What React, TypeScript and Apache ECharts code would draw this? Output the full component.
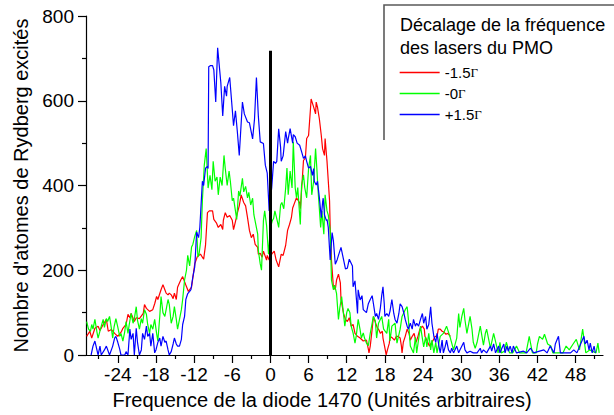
import React, { useEffect, useRef } from "react";
import * as echarts from "echarts";

// ---------- data ----------
const redX = [-28.9,-28.4,-28.1,-27.6,-27.1,-26.8,-26.3,-25.8,-25.5,-25.0,-24.5,-24.0,-23.4,-23.2,-22.7,-22.4,-22.1,-21.9,-21.4,-21.1,-20.6,-20.0,-19.8,-19.5,-19.0,-18.5,-18.2,-17.9,-17.7,-17.2,-16.9,-16.6,-16.4,-16.1,-15.9,-15.6,-15.3,-15.1,-14.8,-14.6,-14.1,-13.8,-13.3,-12.9,-12.4,-11.9,-11.5,-11.0,-10.5,-10.2,-9.9,-9.6,-9.1,-8.9,-8.5,-8.2,-7.8,-7.5,-7.4,-7.1,-6.8,-6.4,-6.0,-5.8,-5.5,-5.2,-4.9,-4.6,-4.2,-3.9,-3.6,-3.3,-3.0,-2.7,-2.4,-2.0,-1.9,-1.6,-1.3,-1.1,-0.6,-0.5,-0.2,0.2,0.6,0.9,1.3,1.7,2.0,2.4,2.7,3.0,3.3,3.5,3.8,4.1,4.6,4.7,4.9,5.2,5.5,5.7,6.0,6.3,6.4,6.8,7.1,7.2,7.4,7.7,8.0,8.2,8.5,8.6,8.9,9.3,9.4,9.6,9.9,10.2,10.4,10.7,11.0,11.1,11.5,11.8,12.1,12.4,12.7,13.0,13.3,13.7,14.1,14.6,15.1,15.4,15.5,15.7,16.0,16.2,16.5,16.8,17.1,17.3,17.6,17.7,18.1,18.2,18.4,18.7,18.8,19.2,19.5,19.8,20.1,20.4,20.6,20.7,20.9,21.2,21.5,21.8,22.0,22.3,22.6,22.9,23.2,23.5,23.9,24.2,24.3,24.6,25.0,25.3,25.6,25.9,26.2,26.4,26.7,27.0,27.3,27.6,27.9,28.3];
const redY = [44,56,40,63,68,58,72,84,56,60,51,44,56,63,72,96,88,98,79,88,86,98,119,110,103,107,121,138,131,154,166,154,146,142,146,142,133,146,131,160,177,185,165,150,160,215,232,238,226,260,336,340,340,320,312,301,308,296,318,336,325,329,318,296,315,335,352,378,360,352,324,294,277,285,261,254,238,240,231,245,224,235,224,238,245,224,208,238,235,259,294,308,324,347,359,371,359,345,389,459,465,511,518,581,604,585,569,597,585,557,518,487,471,511,457,364,301,224,161,154,177,191,170,131,98,84,79,88,68,72,51,44,40,33,35,14,5,21,61,91,77,65,58,51,56,40,9,0,12,28,44,40,35,44,44,40,21,5,30,44,61,51,35,44,51,30,44,61,68,61,44,35,21,28,35,44,44,61,61,56,54,49,51,44];

const greenX = [-28.9,-28.6,-28.3,-28.1,-27.9,-27.6,-27.3,-27.1,-26.6,-26.3,-26.1,-25.8,-25.6,-25.3,-25.1,-24.8,-24.6,-24.3,-24.0,-23.7,-23.5,-23.2,-22.9,-22.7,-22.4,-22.2,-21.9,-21.6,-21.4,-21.1,-20.9,-20.6,-20.3,-20.1,-19.8,-19.5,-19.3,-19.0,-18.8,-18.5,-18.2,-17.9,-17.7,-17.4,-17.2,-16.9,-16.6,-16.4,-16.1,-15.9,-15.6,-15.3,-15.1,-14.8,-14.6,-14.3,-14.0,-13.8,-13.5,-13.2,-13.0,-12.7,-12.4,-12.2,-11.9,-11.6,-11.4,-11.2,-10.9,-10.7,-10.4,-10.1,-9.8,-9.5,-9.2,-9.0,-8.7,-8.4,-8.2,-7.9,-7.6,-7.3,-7.1,-6.8,-6.5,-6.3,-6.0,-5.8,-5.5,-5.3,-5.0,-4.8,-4.4,-4.2,-3.9,-3.6,-3.4,-3.1,-2.8,-2.6,-2.3,-2.0,-1.9,-1.6,-1.4,-1.1,-0.9,-0.6,-0.3,0.0,0.3,0.5,0.7,1.0,1.3,1.6,1.8,2.1,2.4,2.6,2.8,3.1,3.4,3.6,3.9,4.1,4.3,4.7,4.9,5.2,5.4,5.7,6.0,6.3,6.5,6.8,7.1,7.3,7.5,7.9,8.1,8.4,8.6,8.9,9.1,9.4,9.6,9.9,10.1,10.4,10.7,10.9,11.2,11.4,11.7,12.0,12.2,12.5,12.7,13.0,13.3,13.5,13.8,14.1,14.3,14.6,14.8,15.1,15.4,15.7,16.2,16.5,16.7,17.0,17.5,17.8,18.3,18.6,18.8,19.1,19.6,19.9,20.4,20.7,21.2,21.5,21.7,22.0,22.5,22.8,23.0,23.6,24.1,24.4,24.6,24.9,25.2,25.4,25.7,26.0,26.2,26.7,27.2,27.7,28.3,28.8,29.3,29.6,29.8,30.1,30.4,30.6,30.9,31.2,31.4,31.7,31.9,32.2,32.5,33.0,33.5,33.8,34.0,34.6,35.1,35.6,35.8,36.1,36.3,36.8,37.1,37.6,38.1,38.7,39.2,40.2,40.7,41.2,41.8,42.0,42.3,42.8,43.1,43.6,44.1,44.4,44.9,46.0,46.5,47.0,47.6,48.1,48.6,49.1,49.6,50.2,51.2,51.5,51.7];
const greenY = [79,61,56,72,61,84,56,40,68,84,65,86,79,91,72,40,65,86,66,44,51,33,56,79,51,72,98,75,86,114,82,61,86,75,107,96,72,51,72,61,84,51,33,91,138,100,91,107,131,119,75,91,114,84,61,84,107,131,177,200,235,210,255,261,280,294,231,240,277,364,448,487,394,424,390,457,410,420,378,420,400,471,440,400,434,410,364,370,340,320,387,375,417,385,398,371,384,354,370,331,308,285,247,215,200,317,340,305,238,300,317,322,340,322,301,354,360,345,394,441,378,434,394,503,394,371,395,308,401,425,395,371,440,471,378,410,487,440,387,301,340,285,378,340,330,294,177,154,165,145,84,110,138,110,68,100,110,100,68,52,28,45,84,60,40,52,40,28,22,51,91,80,40,75,91,61,51,84,33,68,75,28,61,91,107,114,84,21,5,42,5,68,19,42,19,51,12,35,5,30,5,44,51,68,40,12,40,98,65,91,110,82,51,75,91,61,30,16,30,68,23,51,61,16,51,19,5,30,5,9,30,5,5,21,5,5,44,5,5,26,44,37,49,26,21,5,5,5,21,12,26,37,12,61,5,12,5,28,5];

const blueX = [-28.2,-27.9,-27.6,-27.4,-27.1,-26.8,-26.6,-26.1,-25.8,-25.3,-24.8,-24.5,-24.3,-24.0,-23.7,-23.5,-22.9,-22.7,-22.4,-22.1,-21.9,-21.6,-21.4,-21.1,-20.9,-20.6,-20.3,-20.1,-19.8,-19.5,-19.3,-19.0,-18.8,-18.5,-18.2,-18.0,-17.7,-17.4,-17.2,-16.9,-16.6,-16.4,-16.1,-15.9,-15.6,-15.3,-15.1,-14.8,-14.6,-14.3,-14.0,-13.8,-13.5,-13.3,-13.0,-12.7,-12.5,-12.2,-11.9,-11.6,-11.3,-11.1,-10.7,-10.5,-10.2,-9.9,-9.8,-9.7,-9.4,-9.1,-8.9,-8.6,-8.3,-7.8,-7.5,-7.2,-6.9,-6.8,-6.4,-6.0,-5.8,-5.5,-5.2,-4.9,-4.4,-4.1,-3.6,-3.3,-2.8,-2.5,-2.2,-1.9,-1.6,-1.1,-0.8,-0.5,-0.3,-0.2,0.2,0.5,0.8,1.0,1.3,1.6,1.7,2.0,2.4,2.7,2.8,3.1,3.5,3.6,3.9,4.2,4.6,4.9,5.2,5.5,5.7,6.0,6.3,6.6,6.8,6.9,7.2,7.4,7.7,8.0,8.2,8.3,8.5,8.8,8.9,9.1,9.4,9.7,9.9,10.2,10.5,10.7,11.1,11.5,11.8,12.1,12.4,12.9,13.0,13.3,13.7,13.8,14.1,14.4,14.6,15.1,15.4,15.7,16.0,16.2,16.5,16.7,17.0,17.3,17.5,17.7,17.9,18.0,18.3,18.6,18.8,19.1,19.4,19.6,19.9,20.2,20.4,20.7,21.0,21.2,21.5,21.7,22.0,22.3,22.5,22.8,23.0,23.3,23.6,23.9,24.1,24.4,24.6,24.9,25.2,25.4,25.7,26.0,26.2,26.5,26.7,27.0,27.2,27.5,27.7,28.0,28.3,28.5,28.8,29.3,29.6,29.8,30.4,30.6,30.9,31.4,31.9,32.5,33.0,33.2,33.5,34.0,34.6,34.8,35.1,35.4,35.6,35.9,36.1,36.4,36.7,36.9,37.2,37.4,37.7,38.0,38.2,38.7,39.8,40.3,40.9,41.4,43.0,43.5,44.0,44.6,44.8,45.1,45.3,45.6,47.2,47.7,48.2,49.3,49.5,49.8,50.1,50.3,50.6,50.9,51.1];
const blueY = [0,21,33,20,0,21,0,12,21,0,21,40,44,30,14,0,0,8,0,61,37,51,0,63,30,0,12,51,37,68,44,51,21,51,5,12,30,40,21,44,30,33,12,0,8,26,40,26,21,21,37,72,91,131,145,150,154,184,208,290,277,301,410,400,441,445,440,680,683,683,673,597,725,643,564,634,611,634,655,580,541,576,527,471,597,569,550,548,510,557,655,564,503,499,448,429,371,340,394,457,452,457,534,490,457,470,527,500,510,534,500,520,515,500,495,480,464,470,457,441,445,424,440,410,401,410,371,324,360,370,331,317,320,301,224,289,270,214,225,235,254,225,203,205,226,210,161,175,98,154,130,140,107,100,121,131,140,121,91,98,84,112,140,161,121,91,98,91,103,131,98,84,75,98,121,114,98,84,68,61,75,61,84,68,75,68,84,98,75,91,61,72,114,75,44,30,51,21,5,35,5,21,35,12,5,16,5,21,5,12,30,12,5,9,5,5,16,5,12,5,21,9,26,5,12,21,5,16,26,5,21,9,21,5,21,5,9,5,16,5,12,5,21,5,26,37,44,5,5,12,5,44,26,35,12,28,5,21,5];

const xMajorTicks = [-24, -18, -12, -6, 0, 6, 12, 18, 24, 30, 36, 42, 48];
const xMinorTicks = [-27, -21, -15, -9, -3, 3, 9, 15, 21, 27, 33, 39, 45, 51];
const seriesNames = ["-1.5Γ", "-0Γ", "+1.5Γ"];
const seriesColors = ["#ff0000", "#00ff00", "#0000ff"];
const legendTitle = ["Décalage de la fréquence", "des lasers du PMO"];
const xTitle = "Frequence de la diode 1470 (Unités arbitraires)";
const yTitle = "Nombre d'atomes de Rydberg excités";
const zeroLineTop = 718;

const FONT = "'Liberation Sans', Arial, Helvetica, sans-serif";

function pairs(xs: number[], ys: number[]) {
  return xs.map((x, i) => [x, ys[i]]);
}

export default function App() {
  const ref = useRef<HTMLDivElement>(null);
  useEffect(() => {
    if (!ref.current) return;
    const chart = echarts.init(ref.current, null, { renderer: "svg" });
    const datasets = [pairs(redX, redY), pairs(greenX, greenY), pairs(blueX, blueY)];
    const option: any = {
      animation: false,
      backgroundColor: "#fff",
      textStyle: { fontFamily: FONT, color: "#000" },
      grid: { left: 86, right: 11, top: 16, bottom: 56 },
      legend: {
        data: seriesNames.map((n, i) => ({
          name: n,
          itemStyle: { opacity: 0 },
          lineStyle: { color: seriesColors[i], width: 1.3, opacity: 1 },
        })),
        orient: "vertical",
        left: 399,
        top: 65,
        padding: 0,
        itemWidth: 40,
        itemHeight: 16,
        itemGap: 6,
        selectedMode: false,
        formatter: (name: string) => "{t|" + name.replace("Γ", "") + "}{g|Γ}",
        textStyle: {
          color: "#000",
          fontFamily: FONT,
          fontSize: 15,
          rich: {
            t: { fontFamily: FONT, fontSize: 15, color: "#000" },
            g: { fontFamily: "'Liberation Serif', 'DejaVu Serif', serif", fontSize: 13, color: "#000" },
          },
        },
      },
      graphic: [
        {
          type: "polyline",
          shape: { points: [[384, 140], [384, 5], [616, 5]] },
          style: { stroke: "#5a5a5a", lineWidth: 1.6, fill: null },
          z: 1,
        },
        {
          type: "text",
          x: 400,
          y: 25,
          style: { text: legendTitle[0], font: "18px " + FONT, fill: "#000", verticalAlign: "middle" },
        },
        {
          type: "text",
          x: 400,
          y: 48,
          style: { text: legendTitle[1], font: "18px " + FONT, fill: "#000", verticalAlign: "middle" },
        },
      ],
      xAxis: [
        {
          type: "value",
          min: -29,
          max: 52.3,
          position: "bottom",
          name: xTitle,
          nameLocation: "middle",
          nameGap: 35,
          nameTextStyle: { fontSize: 20, color: "#000", fontFamily: FONT, padding: [0, 45, 0, 0] },
          axisLine: { show: true, onZero: false, lineStyle: { color: "#000", width: 1.2 } },
          axisTick: { show: true, length: 8, customValues: xMajorTicks, lineStyle: { color: "#000", width: 1.2 } },
          axisLabel: { show: true, customValues: xMajorTicks, fontSize: 19, color: "#000", fontFamily: FONT, margin: 10 },
          splitLine: { show: false },
        },
        {
          type: "value",
          min: -29,
          max: 52.3,
          position: "bottom",
          axisLine: { show: false, onZero: false },
          axisTick: { show: true, length: 4, customValues: xMinorTicks, lineStyle: { color: "#000", width: 1.2 } },
          axisLabel: { show: false },
          splitLine: { show: false },
        },
      ],
      yAxis: {
        type: "value",
        min: 0,
        max: 800,
        interval: 200,
        name: yTitle,
        nameLocation: "middle",
        nameGap: 54,
        nameTextStyle: { fontSize: 20, color: "#000", fontFamily: FONT },
        axisLine: { show: true, onZero: false, lineStyle: { color: "#000", width: 1.2 } },
        axisTick: { show: true, length: 8, lineStyle: { color: "#000", width: 1.2 } },
        minorTick: { show: true, splitNumber: 2, length: 4, lineStyle: { color: "#000", width: 1.2 } },
        axisLabel: { fontSize: 19, color: "#000", fontFamily: FONT, margin: 12 },
        splitLine: { show: false },
        minorSplitLine: { show: false },
      },
      series: seriesNames.map((name, i) => {
        const s: any = {
          name,
          type: "line",
          data: datasets[i],
          symbol: "none",
          showSymbol: false,
          xAxisIndex: 0,
          color: seriesColors[i],
          lineStyle: { color: seriesColors[i], width: 1.2 },
          itemStyle: { color: seriesColors[i] },
        };
        if (i === seriesNames.length - 1) {
          s.markLine = {
            silent: true,
            symbol: ["none", "none"],
            label: { show: false },
            lineStyle: { color: "#000", width: 3, type: "solid" },
            data: [[{ coord: [0, 0] }, { coord: [0, zeroLineTop] }]],
          };
        }
        return s;
      }),
    };
    chart.setOption(option);
    return () => chart.dispose();
  }, []);
  return (
    <div
      ref={ref}
      style={{ position: "fixed", left: 0, top: 0, width: 614, height: 415, background: "#fff" }}
    />
  );
}
